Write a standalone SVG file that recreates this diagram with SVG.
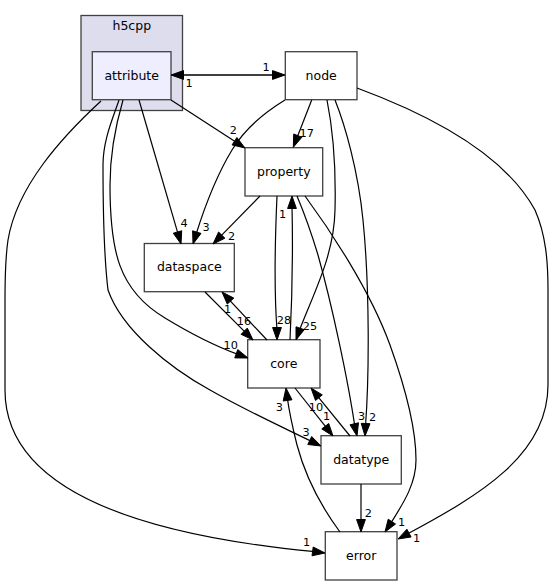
<svg xmlns="http://www.w3.org/2000/svg" width="555" height="585" viewBox="0 0 555 585">
<style>
.bg{fill:#ffffff}
.cl{fill:#ddddee;stroke:#404040;stroke-width:1.3}
.nd{fill:#ffffff;stroke:#404040;stroke-width:1.3}
.nd.cur{fill:#eeeeff}
.nt{font-family:"DejaVu Sans","Liberation Sans",sans-serif;font-size:12.5px;fill:#000;text-anchor:middle}
.e path{fill:none;stroke:#000;stroke-width:1.2}
.e polygon{fill:#000;stroke:#000;stroke-width:1}
.e text{font-family:"DejaVu Sans","Liberation Sans",sans-serif;font-size:11.3px;fill:#000;text-anchor:middle}
</style>
<rect class="bg" x="0" y="0" width="555" height="585"/>
<g id="cluster_h5cpp">
<rect class="cl" x="81" y="15.5" width="101.5" height="95"/>
<text class="nt" x="131.8" y="30">h5cpp</text>
</g>
<g id="node_attribute">
<rect class="nd cur" x="92.3" y="51.7" width="78.7" height="48"/>
<text class="nt" x="131.7" y="79.5">attribute</text>
</g>
<g id="node_node">
<rect class="nd" x="285.3" y="51.7" width="71.7" height="48"/>
<text class="nt" x="321.2" y="79.5">node</text>
</g>
<g id="node_property">
<rect class="nd" x="245" y="147.7" width="77.7" height="48.3"/>
<text class="nt" x="283.8" y="175.5">property</text>
</g>
<g id="node_dataspace">
<rect class="nd" x="144.3" y="243.5" width="90" height="48.2"/>
<text class="nt" x="189.3" y="271.3">dataspace</text>
</g>
<g id="node_core">
<rect class="nd" x="247.7" y="339.7" width="72.3" height="48.3"/>
<text class="nt" x="283.8" y="367.5">core</text>
</g>
<g id="node_datatype">
<rect class="nd" x="321" y="435.7" width="80.3" height="48.3"/>
<text class="nt" x="361.2" y="463.5">datatype</text>
</g>
<g id="node_error">
<rect class="nd" x="325.3" y="531.7" width="71.7" height="48.3"/>
<text class="nt" x="361.2" y="559.5">error</text>
</g>
<g id="connectors">
<g class="e" id="e_attribute_node">
<path d="M181,75 L275,75"/>
<polygon points="272.5,70.6 285,75 272.5,79.4"/>
<text x="266" y="70.5">1</text>
</g>
<g class="e" id="e_node_attribute">
<path d="M275,75 L181,75"/>
<polygon points="183.5,79.4 171,75 183.5,70.6"/>
<text x="189" y="87">1</text>
</g>
<g class="e" id="e_attribute_property">
<path d="M171,100 L236.6,142.6"/>
<polygon points="232.1,144.9 245,148 236.9,137.5"/>
<text x="233.3" y="134">2</text>
</g>
<g class="e" id="e_attribute_dataspace">
<path d="M139,100 L178.2,234.4"/>
<polygon points="173.3,233.2 181,244 181.7,230.8"/>
<text x="184" y="227">4</text>
</g>
<g class="e" id="e_node_dataspace">
<path d="M285,100 C262,114 244,130 232,150 C215,178 204,209 196,234.5"/>
<polygon points="192.6,230.8 193,244 201,233.4"/>
<text x="206" y="230.5">3</text>
</g>
<g class="e" id="e_node_property">
<path d="M311.7,100 L296.9,138"/>
<polygon points="293.7,134 293.3,147.3 301.9,137.2"/>
<text x="306.7" y="136.5">17</text>
</g>
<g class="e" id="e_property_dataspace">
<path d="M260,196 L220,236.9"/>
<polygon points="218.6,232 213,244 224.9,238.2"/>
<text x="231.7" y="239.5">2</text>
</g>
<g class="e" id="e_attribute_core">
<path d="M123,100 C116,124 110,150 110,185 C110,250 118,290 165,318 C188,332 212,345 238.6,354.6"/>
<polygon points="234.75,357.9 248,358 237.75,349.6"/>
<text x="230.7" y="349">10</text>
</g>
<g class="e" id="e_attribute_datatype">
<path d="M119,100 C113,118 103,140 103,165 C103,215 105,265 108,290 C122,330 170,368 210,390 C245,410 280,426 312,441.6"/>
<polygon points="307.8,444.5 321,446 311.7,436.5"/>
<text x="306" y="435.5">3</text>
</g>
<g class="e" id="e_attribute_error">
<path d="M101,101 C62,137 17,186 8,240 C5,260 5,280 5,300 L5,390 C5,490 140,535 315.1,551.7"/>
<polygon points="312,555.8 325,553 313.2,547"/>
<text x="306.7" y="545.5">1</text>
</g>
<g class="e" id="e_dataspace_core">
<path d="M205,292 L245.9,332.9"/>
<polygon points="241.1,334.3 253,340 247.3,328.1"/>
<text x="244" y="324.5">16</text>
</g>
<g class="e" id="e_core_dataspace">
<path d="M267,340 L228.8,299.3"/>
<polygon points="233.8,298.1 222,292 227.3,304.1"/>
<text x="227.7" y="313">1</text>
</g>
<g class="e" id="e_property_core">
<path d="M277,196 C275,240 274,290 277,330"/>
<polygon points="272.6,327.5 277,340 281.4,327.5"/>
<text x="284" y="324">28</text>
</g>
<g class="e" id="e_core_property">
<path d="M290,340 C292,300 293,250 292,206"/>
<polygon points="296.4,208.5 292,196 287.6,208.5"/>
<text x="282.7" y="217.8">1</text>
</g>
<g class="e" id="e_node_core">
<path d="M327,100 C333,130 336,170 335,210 C334,255 315,290 299.3,330.6"/>
<polygon points="296,326.8 296,340 304.2,329.7"/>
<text x="310" y="329.5">25</text>
</g>
<g class="e" id="e_property_datatype">
<path d="M297,196 C305,215 312,235 318,255 C332,305 348,380 354.8,426.2"/>
<polygon points="350,424.8 357,436 358.5,422.8"/>
<text x="361.7" y="419.5">3</text>
</g>
<g class="e" id="e_node_datatype">
<path d="M335,100 C345,125 358,170 363,220 C370,290 369,380 365.5,426"/>
<polygon points="361.2,423.3 365,436 370,423.7"/>
<text x="372.7" y="421">2</text>
</g>
<g class="e" id="e_property_error">
<path d="M305,196 C330,230 370,290 390,345 C408,395 416,435 416,460 C416,485 402,505 390.5,523.7"/>
<polygon points="388.2,519.2 385,532 395.5,524"/>
<text x="401.7" y="525.5">1</text>
</g>
<g class="e" id="e_node_error">
<path d="M357,88 C430,115 505,155 535,210 C546,235 548,262 548,290 L548,385 C548,455 480,495 406.8,534.3"/>
<polygon points="406.9,529.2 398,539 411.1,537"/>
<text x="416.7" y="541.5">1</text>
</g>
<g class="e" id="e_core_datatype">
<path d="M295,388 L326.8,428.2"/>
<polygon points="321.8,428.9 333,436 328.7,423.5"/>
<text x="326.7" y="419.5">1</text>
</g>
<g class="e" id="e_datatype_core">
<path d="M350,436 L317.3,395.8"/>
<polygon points="322.3,394.9 311,388 315.5,400.5"/>
<text x="316" y="410.5">10</text>
</g>
<g class="e" id="e_error_core">
<path d="M340,532 C320,505 305,475 297,445 C292,425 289,410 287.3,397.9"/>
<polygon points="292,399.8 286,388 283.2,401"/>
<text x="279.3" y="410.5">3</text>
</g>
<g class="e" id="e_datatype_error">
<path d="M361,484 L361,522"/>
<polygon points="356.6,519.5 361,532 365.4,519.5"/>
<text x="368.3" y="516.5">2</text>
</g>
</g>
</svg>
